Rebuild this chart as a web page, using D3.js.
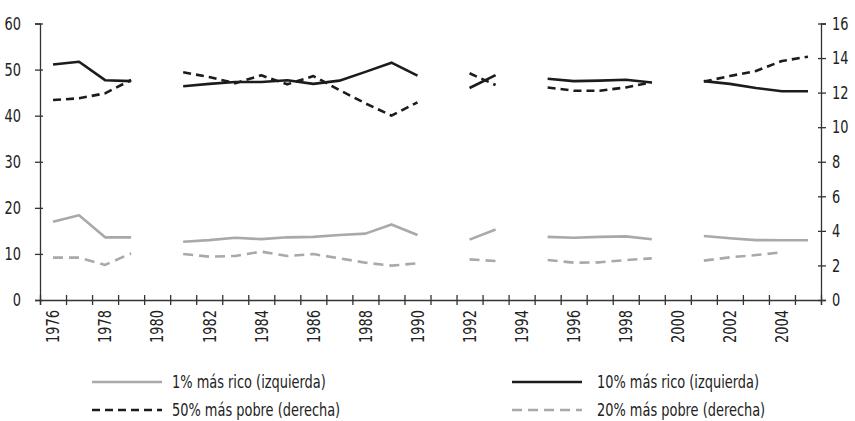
<!DOCTYPE html>
<html>
<head>
<meta charset="utf-8">
<script src="https://cdn.jsdelivr.net/npm/d3@7"></script>
<style>
  body { margin: 0; background: #fff; }
  svg text { font-family: "DejaVu Sans Condensed", "Liberation Sans", sans-serif; fill: #222; }
</style>
</head>
<body>
<svg id="chart" width="855" height="421"></svg>
<script>
const years = [1976, 1977, 1978, 1979, 1980, 1981, 1982, 1983, 1984, 1985,
  1986, 1987, 1988, 1989, 1990, 1991, 1992, 1993, 1994, 1995,
  1996, 1997, 1998, 1999, 2000, 2001, 2002, 2003, 2004, 2005];

const yearLabels = [1976, 1978, 1980, 1982, 1984, 1986, 1988, 1990,
  1992, 1994, 1996, 1998, 2000, 2002, 2004];

// left axis (%)
const top1 = [17.0, 18.4, 13.6, 13.6, null, 12.65, 13.0, 13.5, 13.2, 13.6,
  13.7, 14.1, 14.4, 16.4, 14.1, null, 13.1, 15.3, null, 13.7,
  13.5, 13.7, 13.8, 13.2, null, 13.9, 13.4, 13.0, 12.95, 12.95];

const top10 = [51.1, 51.7, 47.7, 47.5, null, 46.4, 46.9, 47.3, 47.3, 47.7,
  46.9, 47.6, 49.5, 51.5, 48.7, null, 46.0, 48.8, null, 48.0,
  47.5, 47.6, 47.8, 47.2, null, 47.5, 46.9, 46.0, 45.3, 45.3];

// right axis (%)
const bottom50 = [11.57, 11.67, 11.96, 12.73, null, 13.18, 12.9, 12.54, 13.0, 12.48,
  12.96, 12.15, 11.38, 10.67, 11.44, null, 13.12, 12.44, null, 12.3,
  12.11, 12.11, 12.3, 12.6, null, 12.64, 12.96, 13.25, 13.83, 14.08];

const bottom20 = [2.45, 2.45, 2.03, 2.7, null, 2.66, 2.51, 2.55, 2.8, 2.55,
  2.66, 2.41, 2.16, 1.99, 2.12, null, 2.35, 2.26, null, 2.31,
  2.16, 2.18, 2.31, 2.41, null, 2.28, 2.47, 2.6, 2.76, null];

const leftTicks = [0, 10, 20, 30, 40, 50, 60];
const rightTicks = [0, 2, 4, 6, 8, 10, 12, 14, 16];

const BLACK = '#1c1c1c';
const GREY = '#a9a9a9';
const AXIS = '#333';
const SQUEEZE = 'scale(0.8,1)'; // narrow the glyphs like the condensed face of the original

const series = [
  { label: '1% más rico (izquierda)', values: top1, axis: 'left', color: GREY, dash: null },
  { label: '10% más rico (izquierda)', values: top10, axis: 'left', color: BLACK, dash: null },
  { label: '50% más pobre (derecha)', values: bottom50, axis: 'right', color: BLACK, dash: '8,5' },
  { label: '20% más pobre (derecha)', values: bottom20, axis: 'right', color: GREY, dash: '10,6' }
];

const plot = { left: 40, right: 821, top: 23.5, bottom: 300 };

const svg = d3.select('#chart');

const x = d3.scaleBand()
  .domain(years)
  .range([plot.left, plot.right])
  .padding(0);

// band edges for the tick marks
const xEdge = d3.scaleLinear()
  .domain([years[0] - 0.5, years[years.length - 1] + 0.5])
  .range([plot.left, plot.right]);

const yLeft = d3.scaleLinear().domain([0, 60]).range([plot.bottom, plot.top]);
const yRight = d3.scaleLinear().domain([0, 16]).range([plot.bottom, plot.top]);

const xc = d => x(d) + x.bandwidth() / 2;

// lines
series.forEach(s => {
  const y = s.axis === 'left' ? yLeft : yRight;
  const line = d3.line()
    .defined(d => d.v != null)
    .x(d => xc(d.year))
    .y(d => y(d.v));

  svg.append('path')
    .datum(years.map((year, i) => ({ year, v: s.values[i] })))
    .attr('fill', 'none')
    .attr('stroke', s.color)
    .attr('stroke-width', 2.6)
    .attr('stroke-dasharray', s.dash)
    .attr('stroke-linejoin', 'round')
    .attr('d', line);
});

// axes
function styleAxis(g) {
  g.select('.domain').attr('stroke', AXIS).attr('stroke-width', 1.3);
  g.selectAll('.tick line').attr('stroke', AXIS).attr('stroke-width', 1.3);
  g.selectAll('text').style('font-size', '18px').attr('fill', '#222');
}

const gLeft = svg.append('g')
  .attr('transform', `translate(${plot.left},0)`)
  .call(d3.axisLeft(yLeft).tickValues(leftTicks).tickSizeOuter(0).tickSize(5).tickPadding(13))
  .call(styleAxis);
gLeft.selectAll('.tick line').attr('x1', 3);
gLeft.selectAll('.tick text').attr('x', 0).attr('transform', `translate(-19,0) ${SQUEEZE}`);

const gRight = svg.append('g')
  .attr('transform', `translate(${plot.right},0)`)
  .call(d3.axisRight(yRight).tickValues(rightTicks).tickSizeOuter(0).tickSize(5).tickPadding(6))
  .call(styleAxis);
gRight.selectAll('.tick line').attr('x1', -3);
gRight.selectAll('.tick text').attr('x', 0).attr('transform', `translate(11,0) ${SQUEEZE}`);

const gBottom = svg.append('g')
  .attr('transform', `translate(0,${plot.bottom})`)
  .call(d3.axisBottom(xEdge)
    .tickValues(years.concat([years[years.length - 1] + 1]).map(d => d - 0.5))
    .tickSizeOuter(0)
    .tickSize(5)
    .tickFormat(''))
  .call(styleAxis);
gBottom.selectAll('.tick line').attr('y1', -5);

const gLabels = svg.append('g')
  .attr('transform', `translate(0,${plot.bottom})`)
  .call(d3.axisBottom(x).tickValues(yearLabels).tickSize(0).tickFormat(d3.format('d')));
gLabels.select('.domain').remove();
gLabels.selectAll('text')
  .style('font-size', '18px')
  .attr('fill', '#222')
  .attr('text-anchor', 'end')
  .attr('transform', `rotate(-90) translate(-10,0) ${SQUEEZE}`)
  .attr('x', 0)
  .attr('y', 0)
  .attr('dy', '0.35em');

// legend
const legendPos = [
  { x: 92, y: 382 },
  { x: 512, y: 382 },
  { x: 92, y: 410 },
  { x: 512, y: 410 }
];

series.forEach((s, i) => {
  const p = legendPos[i];
  const g = svg.append('g').attr('transform', `translate(${p.x},${p.y})`);
  g.append('line')
    .attr('x1', 0).attr('x2', 70)
    .attr('stroke', s.color)
    .attr('stroke-width', 2.6)
    .attr('stroke-dasharray', s.dash);
  g.append('text')
    .attr('transform', `translate(${i % 2 === 0 ? 80 : 85},0) ${SQUEEZE}`)
    .attr('dy', '0.35em')
    .style('font-size', '18px')
    .text(s.label);
});
</script>
</body>
</html>
